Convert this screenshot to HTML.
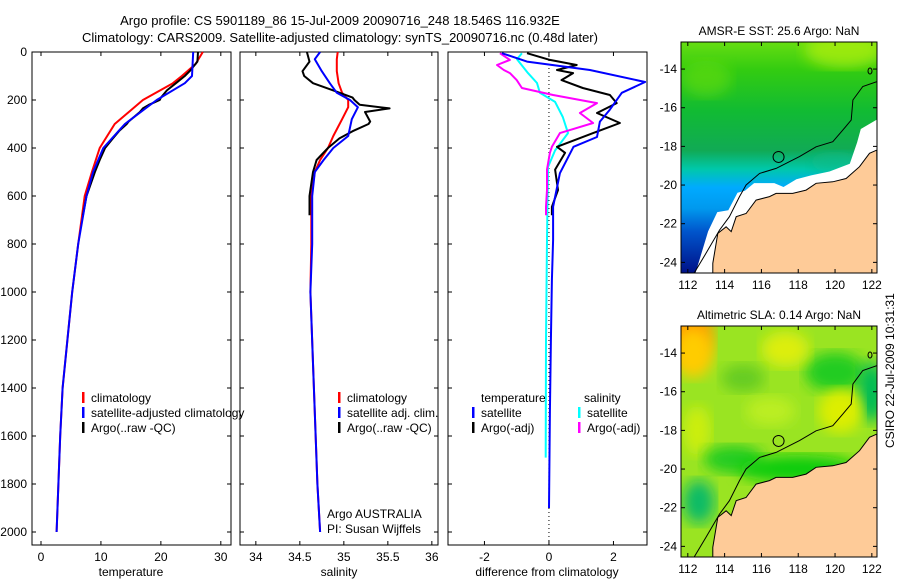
<!DOCTYPE html>
<html><head><meta charset="utf-8"><style>
body{margin:0;background:#fff;}
svg{display:block;font-family:"Liberation Sans",sans-serif;}
</style></head><body>
<svg id="c" width="900" height="580" viewBox="0 0 900 580">
<rect width="900" height="580" fill="#fff"/>
<text x="340" y="25" font-size="13" text-anchor="middle">Argo profile: CS 5901189_86 15-Jul-2009 20090716_248 18.546S 116.932E</text>
<text x="340" y="42" font-size="13" text-anchor="middle">Climatology: CARS2009. Satellite-adjusted climatology: synTS_20090716.nc (0.48d later)</text>
<text transform="translate(894,448) rotate(-90)" font-size="12">CSIRO 22-Jul-2009 10:31:31</text>
<g id="plots"></g>
</svg>
<script>
// ---------- profile data ----------
const tempDepth = [0,50,100,130,200,300,400,500,600,800,1000,1200,1400,1600,1800,2000];
const tempClim  = [27,25.8,23.5,22,17,12.3,9.8,8.5,7.3,6.2,5.2,4.4,3.6,3.2,2.9,2.6];
const tempSat   = [25.4,25.3,25.2,24,19.3,14,10.4,8.7,7.6,6.2,5.2,4.4,3.6,3.2,2.9,2.6];
const argoDepth = [0,40,80,100,130,160,190,200,220,235,250,290,300,330,360,400,450,500,600,680];
const argoTemp  = [26.2,26.1,24.8,24,22.5,21,20,19.8,18,17,16.5,14.6,14.3,13,12,10.7,9.8,9,7.6,7];
const argoSal   = [34.58,34.61,34.53,34.55,34.65,34.88,35.1,35.12,35.18,35.52,35.24,35.3,35.28,35.1,34.95,34.82,34.69,34.65,34.61,34.61];
const salDepth  = [0,30,80,130,170,200,230,280,350,400,450,500,600,800,1000,1400,1800,2000];
const salClim   = [34.93,34.92,34.92,34.94,34.98,35.05,35.05,34.98,34.88,34.82,34.73,34.67,34.63,34.63,34.62,34.66,34.70,34.73];
const salSat    = [34.73,34.67,34.75,34.84,34.92,35.07,35.16,35.09,35.05,34.88,34.77,34.67,34.64,34.64,34.62,34.66,34.70,34.73];
// difference panel
const dtDepth = [5,40,75,125,170,240,290,354,395,505,645,783,950,1200,1500,1900];
const dtSat   = [-1.46,-0.68,1.27,2.98,2.26,1.89,1.58,1.49,0.76,0.34,0.13,0.13,0.09,0.06,0.03,0.0];
const daDepth = [5,33,54,75,88,117,150,179,213,254,296,338,395,420,490,575,645,680];
const daTemp  = [-0.68,0.03,0.86,0.25,0.75,0.39,1.05,1.89,2.1,1.49,2.2,1.37,0.25,0.5,0.19,0.28,0.09,0.09];
const daSal   = [-1.52,-1.21,-1.61,-1.4,-1.21,-1.0,-0.84,0.13,1.49,0.96,1.37,0.34,0.09,0.03,-0.06,-0.06,-0.09,-0.09];
const dsDepth = [5,30,88,129,170,208,271,338,410,479,783,1200,1690];
const dsSat   = [-0.84,-0.99,-0.65,-0.37,-0.28,0.19,0.43,0.59,0.19,-0.03,-0.06,-0.09,-0.1];
const depthTicks = [0,200,400,600,800,1000,1200,1400,1600,1800,2000];
const tempTicks = [0,10,20,30];
const salTicks = ["34","34.5","35","35.5","36"];
const diffTicks = [-2,0,2];
// ---------- map data ----------
const landLon = [113.36,113.36,113.63,114.08,114.36,114.63,115.17,115.71,116.44,116.8,117.7,118.43,118.97,119.88,120.6,121.33,121.87,122.27,122.3,113.36];
const landLat = [24.6,24.05,22.5,22.16,22.41,21.64,21.47,20.78,20.6,20.43,20.43,20.26,19.91,19.83,19.66,19.05,18.36,18.19,24.6,24.6];
const nodataLon = [112.4,113.1,113.6,114.2,114.7,115.1,115.6,116.7,117.2,117.9,118.7,119.7,120.8,121.2,121.4,122.3,122.3,112.4];
const nodataLat = [24.6,22.4,21.4,21.3,20.4,20.3,19.9,19.9,20.1,19.7,19.5,19.3,18.9,17.8,17.1,16.6,24.6,24.6];
const contourLon = [112.36,112.99,113.72,114.26,114.81,115.17,115.9,116.8,118.07,118.97,119.88,120.42,120.88,120.97,121.51,122.28];
const contourLat = [24.53,23.53,22.33,21.64,20.6,20.0,19.4,19.14,18.53,18.02,17.76,17.16,16.64,15.6,14.9,14.65];
const argoLon = 116.932, argoLat = 18.546;
const lonTicks = [112,114,116,118,120,122];
const latTicks = [14,16,18,20,22,24];

const NS="http://www.w3.org/2000/svg";
const root=document.getElementById('plots');
function el(tag,attrs,parent){const e=document.createElementNS(NS,tag);for(const k in attrs)e.setAttribute(k,attrs[k]);(parent||root).appendChild(e);return e;}
function txt(x,y,s,size,anchor,parent){const t=el('text',{x:x,y:y,'font-size':size||12,'text-anchor':anchor||'start'},parent);t.textContent=s;return t;}

const Y0=52, YB=545, dScale=0.24;
const yDepth=d=>Y0+d*dScale;
function panel(name,L,R,xmin,xmax){
  const xs=v=>L+(v-xmin)/(xmax-xmin)*(R-L);
  const g=el('g',{});
  
  
  el('rect',{x:L,y:Y0,width:R-L,height:YB-Y0,fill:'none',stroke:'#000','stroke-width':1},g);
  depthTicks.forEach(d=>{const y=yDepth(d);
    el('line',{x1:L,x2:L+4,y1:y,y2:y,stroke:'#000'},g);
    el('line',{x1:R-4,x2:R,y1:y,y2:y,stroke:'#000'},g);});
  return {xs,g};
}
function line(g,xs,vals,depths,color,w,name){
  let d='';vals.forEach((v,i)=>{d+=(i?'L':'M')+xs(v).toFixed(1)+','+yDepth(depths[i]).toFixed(1);});
  const p=el('path',{d:d,fill:'none',stroke:color,'stroke-width':w,'stroke-linejoin':'round'},g);
  
  
}
function xticks(g,xs,ticks){
  ticks.forEach(t=>{const x=xs(+t);
    el('line',{x1:x,x2:x,y1:YB,y2:YB-4,stroke:'#000'},g);
    el('line',{x1:x,x2:x,y1:Y0,y2:Y0+4,stroke:'#000'},g);
    txt(x,561,String(t),12,'middle',g);});
}
function legendEntry(g,x,y,color,label,name){
  const e=el('g',{},g);
  
  
  el('rect',{x:x,y:y-10,width:2.5,height:11,fill:color},e);
  txt(x+9,y,label,12,'start',e);
}
// panel 1 temperature
{const {xs,g}=panel('temperature-panel',32,231,-1.5,31.7);
 depthTicks.forEach(d=>txt(27,yDepth(d)+4,String(d),12,'end',g));
 xticks(g,xs,tempTicks);
 txt(131,576,'temperature',12,'middle',g);
 line(g,xs,tempClim,tempDepth,'#f00',2,'temp-climatology-line');
 line(g,xs,argoTemp,argoDepth,'#000',2,'temp-argo-line');
 line(g,xs,tempSat,tempDepth,'#00f',2,'temp-satellite-line');
 legendEntry(g,82,402,'#f00','climatology','legend-climatology');
 legendEntry(g,82,417,'#00f','satellite-adjusted climatology','legend-satellite-adjusted');
 legendEntry(g,82,432,'#000','Argo(..raw -QC)','legend-argo');
}
// panel 2 salinity
{const {xs,g}=panel('salinity-panel',240,438,33.82,36.07);
 xticks(g,xs,salTicks);
 txt(339,576,'salinity',12,'middle',g);
 line(g,xs,salClim,salDepth,'#f00',2,'sal-climatology-line');
 line(g,xs,argoSal,argoDepth,'#000',2,'sal-argo-line');
 line(g,xs,salSat,salDepth,'#00f',2,'sal-satellite-line');
 legendEntry(g,338,402,'#f00','climatology','legend-sal-climatology');
 legendEntry(g,338,417,'#00f','satellite adj. clim.','legend-sal-satellite');
 legendEntry(g,338,432,'#000','Argo(..raw -QC)','legend-sal-argo');
 txt(327,518,'Argo AUSTRALIA',12,'start',g);
 txt(327,533,'PI: Susan Wijffels',12,'start',g);
}
// panel 3 difference
{const {xs,g}=panel('difference-panel',448,647,-3.13,3.04);
 xticks(g,xs,diffTicks);
 txt(547,576,'difference from climatology',12,'middle',g);
 el('line',{x1:xs(0),x2:xs(0),y1:Y0,y2:YB,stroke:'#000','stroke-dasharray':'1,3'},g);
 line(g,xs,dsSat,dsDepth,'#0ff',2,'diff-sal-satellite-line');
 line(g,xs,daSal,daDepth,'#f0f',2,'diff-sal-argo-line');
 line(g,xs,daTemp,daDepth,'#000',2,'diff-temp-argo-line');
 line(g,xs,dtSat,dtDepth,'#00f',2,'diff-temp-satellite-line');
 txt(481,402,'temperature',12,'start',g);
 txt(584,402,'salinity',12,'start',g);
 legendEntry(g,472,417,'#00f','satellite','legend-diff-temp-satellite');
 legendEntry(g,472,432,'#000','Argo(-adj)','legend-diff-temp-argo');
 legendEntry(g,578,417,'#0ff','satellite','legend-diff-sal-satellite');
 legendEntry(g,578,432,'#f0f','Argo(-adj)','legend-diff-sal-argo');
}
// ---------- maps ----------
const defs=el('defs',{});
defs.innerHTML=`
<linearGradient id="sstg" x1="0" y1="0" x2="0" y2="1">
<stop offset="0" stop-color="#66dd11"/><stop offset="0.12" stop-color="#33cc11"/>
<stop offset="0.3" stop-color="#11bb33"/><stop offset="0.47" stop-color="#11aa55"/>
<stop offset="0.55" stop-color="#00c8aa"/><stop offset="0.63" stop-color="#00aaff"/>
<stop offset="0.72" stop-color="#0099ee"/><stop offset="0.82" stop-color="#0055cc"/><stop offset="1" stop-color="#001188"/></linearGradient>
<filter id="bl"><feGaussianBlur stdDeviation="7"/></filter>
<clipPath id="clip1"><rect x="681" y="42" width="196" height="231"/></clipPath>
<clipPath id="clip2"><rect x="681" y="326" width="196" height="231"/></clipPath>`;
function map(name,top,title,isSla){
  const L=681,W=196,H=231;
  const lonMin=111.63,lonMax=122.28,latMin=12.6,latMax=24.55;
  const px=lon=>L+(lon-lonMin)/(lonMax-lonMin)*W;
  const py=lat=>top+(lat-latMin)/(latMax-latMin)*H;
  const g=el('g',{});
  
  
  txt(779,top-7,title,12,'middle',g);
  const c=el('g',{'clip-path':`url(#${isSla?'clip2':'clip1'})`},g);
  if(!isSla){
    el('rect',{x:L,y:top,width:W,height:H,fill:'url(#sstg)'},c);
    el('ellipse',{cx:px(120),cy:py(18.8),rx:25,ry:10,fill:'#11bb88',opacity:0.7,filter:'url(#bl)'},c);
    el('ellipse',{cx:px(120.5),cy:py(13),rx:40,ry:18,fill:'#aaee11',opacity:0.8,filter:'url(#bl)'},c);
    el('ellipse',{cx:px(113),cy:py(14.5),rx:25,ry:18,fill:'#66dd11',opacity:0.6,filter:'url(#bl)'},c);
  } else {
    el('rect',{x:L,y:top,width:W,height:H,fill:'#9ae422'},c);
    const blobs=[[112,13,25,30,'#ff9900'],[112.3,14,20,25,'#ffcc00'],[120,15,30,20,'#22cc22'],[122,16,14,30,'#00bb55'],[120.3,17,22,22,'#ddee00'],[117.3,13.8,24,18,'#ddee11'],[112.5,18,14,25,'#ccee11'],[114.5,19.5,30,14,'#22cc22'],[112.6,21.7,16,22,'#11bb66'],[118,20,60,14,'#11cc11'],[115,15.3,22,14,'#66cc22'],[116.5,17,25,15,'#bbee22']];
    blobs.forEach(b=>el('ellipse',{cx:px(b[0]),cy:py(b[1]),rx:b[2],ry:b[3],fill:b[4],filter:'url(#bl)'},c));
  }
  let d='';
  if(!isSla){nodataLon.forEach((v,i)=>{d+=(i?'L':'M')+px(v).toFixed(1)+','+py(nodataLat[i]).toFixed(1);});
    const nd=el('path',{d:d+'Z',fill:'#fff'},c);
    
    }
  d='';landLon.forEach((v,i)=>{d+=(i?'L':'M')+px(v).toFixed(1)+','+py(landLat[i]).toFixed(1);});
  const land=el('path',{d:d+'Z',fill:'#fecb98',stroke:'#000','stroke-width':1},c);
  
  
  d='';contourLon.forEach((v,i)=>{d+=(i?'L':'M')+px(v).toFixed(1)+','+py(contourLat[i]).toFixed(1);});
  el('path',{d:d,fill:'none',stroke:'#000','stroke-width':1},c);
  el('ellipse',{cx:px(121.9),cy:py(14.1),rx:2,ry:3,fill:'none',stroke:'#000'},c);
  const m=el('circle',{cx:px(argoLon),cy:py(argoLat),r:5.5,fill:'none',stroke:'#000'},g);
  
  
  el('rect',{x:L,y:top,width:W,height:H,fill:'none',stroke:'#000'},g);
  lonTicks.forEach(t=>{const x=px(t);el('line',{x1:x,x2:x,y1:top+H,y2:top+H-4,stroke:'#000'},g);el('line',{x1:x,x2:x,y1:top,y2:top+4,stroke:'#000'},g);txt(x,top+H+16,String(t),12,'middle',g);});
  latTicks.forEach(t=>{const y=py(t);el('line',{x1:L,x2:L+4,y1:y,y2:y,stroke:'#000'},g);el('line',{x1:L+W-4,x2:L+W,y1:y,y2:y,stroke:'#000'},g);txt(L-4,y+4,'-'+t,12,'end',g);});
}
map('sst-map',42,'AMSR-E SST: 25.6 Argo: NaN',false);
map('sla-map',326,'Altimetric SLA: 0.14 Argo: NaN',true);
</script>
</body></html>
